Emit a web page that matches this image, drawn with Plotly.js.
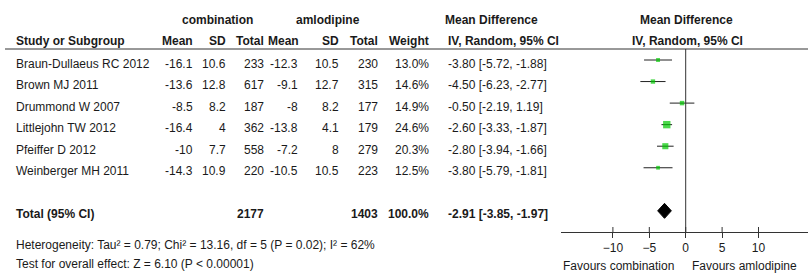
<!DOCTYPE html>
<html><head><meta charset="utf-8">
<script src="https://cdn.plot.ly/plotly-3.0.1.min.js"></script>
<style>html,body{margin:0;padding:0;background:#fff}#chart{width:808px;height:275px}</style>
</head><body><div id="chart"></div><script>
// ---- data ----
const studies = ["Braun-Dullaeus RC 2012","Brown MJ 2011","Drummond W 2007","Littlejohn TW 2012","Pfeiffer D 2012","Weinberger MH 2011"];
const combMean = [-16.1,-13.6,-8.5,-16.4,-10,-14.3];
const combSD = [10.6,12.8,8.2,4,7.7,10.9];
const combTotal = [233,617,187,362,558,220];
const amloMean = [-12.3,-9.1,-8,-13.8,-7.2,-10.5];
const amloSD = [10.5,12.7,8.2,4.1,8,10.5];
const amloTotal = [230,315,177,179,279,223];
const weights = [13.0,14.6,14.9,24.6,20.3,12.5];
const md = [-3.80,-4.50,-0.50,-2.60,-2.80,-3.80];
const ciLow = [-5.72,-6.23,-2.19,-3.33,-3.94,-5.79];
const ciHigh = [-1.88,-2.77,1.19,-1.87,-1.66,-1.81];
const totalComb = [2177];
const totalAmlo = [1403];
const totalWeight = [100.0];
const totalMD = [-2.91];
const totalLow = [-3.85];
const totalHigh = [-1.97];
const tickVals = [-10,-5,0,5,10];
const heteroText = "Heterogeneity: Tau² = 0.79; Chi² = 13.16, df = 5 (P = 0.02); I² = 62%";
const testText = "Test for overall effect: Z = 6.10 (P < 0.00001)";

// ---- layout helpers ----
const W = 808, H = 275;
const FONT = "'Liberation Sans',Arial,sans-serif";
const TXT = "#1a1a1a";
const FS = 12;
const px = x => x / W;
const py = y => 1 - y / H;
const ROW0 = 60, ROWH = 21.55;          // pixel position of row 0, row height
const yTop = -ROW0 / ROWH, yBot = (H - ROW0) / ROWH;
const TOTAL_ROW = studies.length + 1;
const AXIS_Y = 232;

const ann = [];
function t(text, x, y, anchor, bold) {
  ann.push({text: bold ? "<b>" + text + "</b>" : text, x: px(x), xref: "paper",
    y: y, yref: "paper", xanchor: anchor, yanchor: "middle", showarrow: false,
    font: {family: FONT, size: FS, color: TXT}});
}
// columns (pixel x)
const C = {study: 14, cMean: 195, cSD: 228, cTot: 266, aMean: 300, aSD: 341, aTot: 380, wt: 431, ci: 446};

// headers
t("combination", 217, py(20), "center", true);
t("amlodipine", 328, py(20), "center", true);
t("Mean Difference", 491, py(20), "center", true);
t("Mean Difference", 686, py(20), "center", true);
const H2 = py(41.5);
t("Study or Subgroup", C.study, H2, "left", true);
t("Mean", C.cMean, H2, "right", true);
t("SD", C.cSD, H2, "right", true);
t("Total", C.cTot, H2, "right", true);
t("Mean", C.aMean + 1, H2, "right", true);
t("SD", C.aSD, H2, "right", true);
t("Total", C.aTot, H2, "right", true);
t("Weight", C.wt, H2, "right", true);
t("IV, Random, 95% CI", C.ci, H2, "left", true);
t("IV, Random, 95% CI", 687, H2, "center", true);

const ciStr = (m, l, h) => m.toFixed(2) + " [" + l.toFixed(2) + ", " + h.toFixed(2) + "]";
studies.forEach((s, i) => {
  const y = py(ROW0 + i * ROWH + 3.5);
  t(s, C.study, y, "left");
  t(String(combMean[i]), C.cMean, y, "right");
  t(String(combSD[i]), C.cSD, y, "right");
  t(String(combTotal[i]), C.cTot, y, "right");
  t(String(amloMean[i]), C.aMean, y, "right");
  t(String(amloSD[i]), C.aSD, y, "right");
  t(String(amloTotal[i]), C.aTot, y, "right");
  t(weights[i].toFixed(1) + "%", C.wt, y, "right");
  t(ciStr(md[i], ciLow[i], ciHigh[i]), C.ci, y, "left");
});
const yT = py(ROW0 + TOTAL_ROW * ROWH + 3);
t("Total (95% CI)", C.study, yT, "left", true);
t(String(totalComb[0]), C.cTot, yT, "right", true);
t(String(totalAmlo[0]), C.aTot, yT, "right", true);
t(totalWeight[0].toFixed(1) + "%", C.wt, yT, "right", true);
t(ciStr(totalMD[0], totalLow[0], totalHigh[0]), C.ci, yT, "left", true);
t(heteroText, C.study, py(245), "left");
t(testText, C.study, py(264), "left");
t("Favours combination", 676, py(266), "right");
t("Favours amlodipine", 690, py(266), "left");

// ---- traces ----
const traces = [];
studies.forEach((s, i) => {
  traces.push({type: "scatter", mode: "lines", x: [ciLow[i], ciHigh[i]], y: [i, i],
    line: {color: "#222", width: 1}, hoverinfo: "skip", showlegend: false});
});
traces.push({type: "scatter", mode: "markers", x: md, y: studies.map((s, i) => i),
  marker: {symbol: "square", color: "#00c800", size: weights.map(w => 0.3 * w), line: {width: 0}},
  showlegend: false, hoverinfo: "x"});
const dh = 7.5 / ROWH;
traces.push({type: "scatter", mode: "lines", fill: "toself", fillcolor: "#000",
  x: [totalLow[0], totalMD[0], totalHigh[0], totalMD[0], totalLow[0]],
  y: [TOTAL_ROW, TOTAL_ROW - dh, TOTAL_ROW, TOTAL_ROW + dh, TOTAL_ROW],
  line: {color: "#000", width: 1}, showlegend: false, hoverinfo: "skip"});

// ---- shapes ----
const shapes = [
  {type: "line", xref: "paper", yref: "paper", x0: px(5), x1: 1, y0: py(49), y1: py(49), line: {color: "#333", width: 1}},
  {type: "line", xref: "x", yref: "paper", x0: 0, x1: 0, y0: py(49), y1: py(AXIS_Y), line: {color: "#333", width: 1}}
];
tickVals.forEach(v => shapes.push({type: "line", xref: "x", yref: "paper", x0: v, x1: v,
  y0: py(AXIS_Y), y1: py(AXIS_Y - 5), line: {color: "#333", width: 1}}));

const layout = {
  width: W, height: H, margin: {l: 0, r: 0, t: 0, b: 0},
  paper_bgcolor: "#fff", plot_bgcolor: "rgba(0,0,0,0)",
  font: {family: FONT, size: FS, color: TXT},
  showlegend: false,
  xaxis: {domain: [px(561), 1], range: [-17.13, 16.8], anchor: "free", position: py(AXIS_Y),
    showline: true, linecolor: "#333", linewidth: 1, ticks: "outside", ticklen: 5, tickwidth: 1,
    tickcolor: "#333", tickvals: tickVals, showgrid: false, zeroline: false,
    tickfont: {family: FONT, size: FS, color: TXT}, fixedrange: true},
  yaxis: {domain: [0, 1], range: [yBot, yTop], visible: false, showgrid: false, zeroline: false, fixedrange: true},
  annotations: ann, shapes: shapes
};
Plotly.newPlot("chart", traces, layout, {displayModeBar: false, staticPlot: true});
</script></body></html>
